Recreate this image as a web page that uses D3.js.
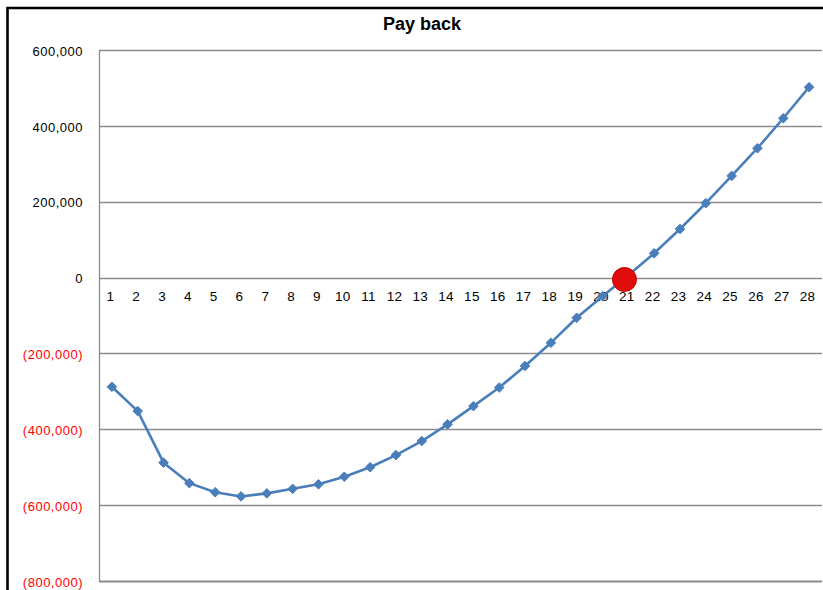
<!DOCTYPE html>
<html>
<head>
<meta charset="utf-8">
<script src="https://cdn.jsdelivr.net/npm/d3@7/dist/d3.min.js"></script>
<style>
  html, body { margin: 0; padding: 0; background: #fff; }
  svg { display: block; }
</style>
</head>
<body>
<script>
const title = "Pay back";
const periods = [1,2,3,4,5,6,7,8,9,10,11,12,13,14,15,16,17,18,19,20,21,22,23,24,25,26,27,28];
const cumulative = [-288000,-352000,-488000,-542000,-566000,-577000,-569000,-557000,-545000,-525000,
  -500000,-468000,-431000,-387000,-339000,-290000,-233000,-172000,-106000,-49000,
  6000,64000,128000,196000,268000,341000,420000,502000];
const yTicks = [-800000,-600000,-400000,-200000,0,200000,400000,600000];
const paybackPeriod = [20.85];
const paybackValue = [-5000];

const W = 823, H = 590;
const svg = d3.select("body").append("svg").attr("width", W).attr("height", H);
svg.append("rect").attr("width", W).attr("height", H).attr("fill", "#fff");

// outer chart border (cropped at right/bottom)
svg.append("path").attr("d", "M7.5," + (H + 5) + " V8 H" + (W + 5))
  .attr("fill", "none").attr("stroke", "#000").attr("stroke-width", 2.6);

const pLeft = 99, pRight = 822, pTop = 50, pBottom = 581;
const x = d3.scaleLinear().domain([0.5, 28.5]).range([pLeft, pRight]);
const y = d3.scaleLinear().domain([-800000, 600000]).range([pBottom, pTop]);

// title
svg.append("text").attr("x", 422).attr("y", 30).attr("text-anchor", "middle")
  .attr("font-family", "Liberation Sans, Arial, sans-serif").attr("font-weight", "bold")
  .attr("font-size", 18).attr("fill", "#000").text(title);

// gridlines
svg.append("g").selectAll("line").data(yTicks).join("line")
  .attr("x1", pLeft).attr("x2", pRight)
  .attr("y1", d => Math.round(y(d)) + 0.5).attr("y2", d => Math.round(y(d)) + 0.5)
  .attr("stroke", "#8c8c8c").attr("stroke-width", d => d === -800000 ? 1.8 : 1.3);

// left axis line
svg.append("line").attr("x1", pLeft + 0.5).attr("x2", pLeft + 0.5).attr("y1", pTop).attr("y2", pBottom + 1)
  .attr("stroke", "#8c8c8c").attr("stroke-width", 1.3);

// y axis labels
const fmt = d3.format(",");
const yAxis = d3.axisLeft(y).tickValues(yTicks).tickSize(0).tickPadding(16)
  .tickFormat(d => d < 0 ? "(" + fmt(-d) + ")" : fmt(d));
const gy = svg.append("g").attr("transform", `translate(${pLeft},0)`).call(yAxis);
gy.select(".domain").remove();
gy.selectAll("text")
  .attr("font-family", "Liberation Sans, Arial, sans-serif").attr("font-size", 13)
  .attr("letter-spacing", "0.5px")
  .attr("dy", "0.4em")
  .attr("fill", d => d < 0 ? "#ff0000" : "#000");

// x axis labels along the zero line
const xAxis = d3.axisBottom(x).tickValues(periods).tickSize(0).tickPadding(14).tickFormat(d3.format("d"));
const gx = svg.append("g").attr("transform", `translate(-2,${y(0)})`).call(xAxis);
gx.select(".domain").remove();
gx.selectAll("text")
  .attr("font-family", "Liberation Sans, Arial, sans-serif").attr("font-size", 13.5)
  .attr("letter-spacing", "0.3px").attr("fill", "#000");

// line
const data = periods.map((p, i) => ({ p, v: cumulative[i] }));
svg.append("path").datum(data)
  .attr("fill", "none").attr("stroke", "#4a7ebb").attr("stroke-width", 2.6)
  .attr("stroke-linejoin", "round")
  .attr("d", d3.line().x(d => x(d.p)).y(d => y(d.v)));

// diamond markers
svg.append("g").selectAll("path").data(data).join("path")
  .attr("transform", d => `translate(${x(d.p)},${y(d.v)})`)
  .attr("d", "M0,-4.8 L4.8,0 L0,4.8 L-4.8,0 Z")
  .attr("fill", "#4a7ebb").attr("stroke", "#4a7ebb").attr("stroke-width", 1);

// payback marker
svg.append("g").selectAll("circle").data(paybackPeriod.map((p, i) => ({ p, v: paybackValue[i] })))
  .join("circle")
  .attr("cx", d => x(d.p)).attr("cy", d => y(d.v)).attr("r", 12)
  .attr("fill", "#e00b0b").attr("stroke", "#c00000").attr("stroke-width", 1);
</script>
</body>
</html>
